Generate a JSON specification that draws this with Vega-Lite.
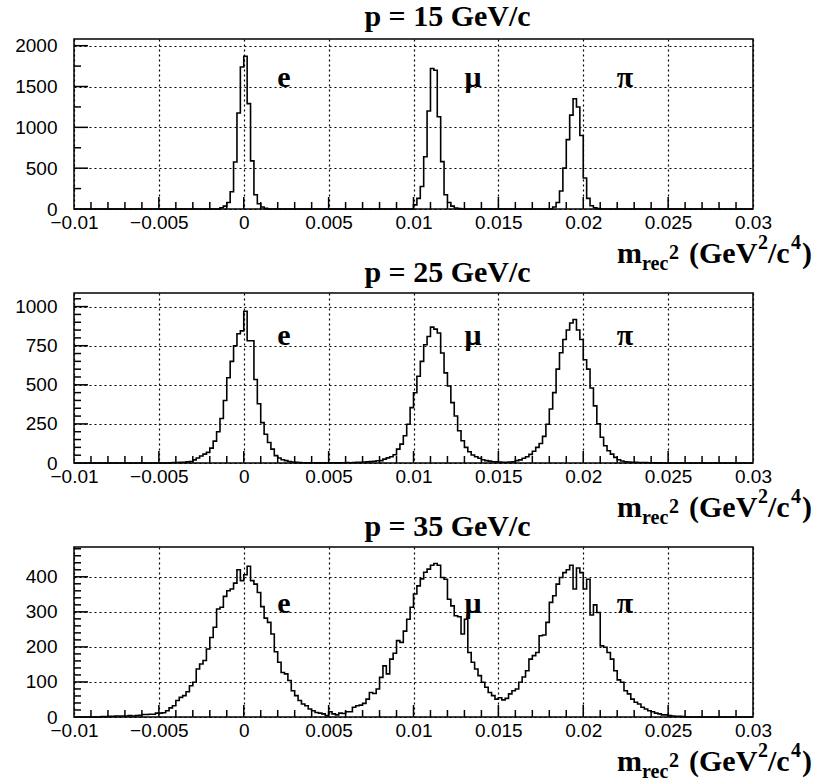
{
  "$schema": "https://vega.github.io/schema/vega-lite/v6.json",
  "background": "white",
  "padding": {"left": 13, "top": 0, "right": 0, "bottom": 0},
  "bounds": "flush",
  "spacing": 84,
  "config": {
    "view": {"stroke": "black", "strokeWidth": 1.5},
    "axis": {
      "domain": false,
      "grid": true,
      "ticks": false,
      "gridColor": "black",
      "gridDash": [2, 3],
      "gridWidth": 1.2,
      "labelFont": "Liberation Sans",
      "labelFontSize": 19,
      "labelColor": "black",
      "labelFlush": false,
      "labelOverlap": false,
      "labelBound": false
    },
    "tick": {"filled": true, "color": "black", "opacity": 1, "thickness": 1.5},
    "title": {"font": "Liberation Serif", "fontWeight": "bold", "fontSize": 30, "color": "black", "anchor": "middle", "dx": 34, "offset": 5}
  },
  "datasets": {
    "h15": [
      {"m2": -0.01, "n": 0}, {"m2": -0.0016, "n": 0}, {"m2": -0.0014, "n": 15}, {"m2": -0.0012, "n": 35},
      {"m2": -0.001, "n": 80}, {"m2": -0.0008, "n": 212}, {"m2": -0.0006, "n": 575}, {"m2": -0.0004, "n": 1175},
      {"m2": -0.0002, "n": 1740}, {"m2": 0, "n": 1870}, {"m2": 0.0002, "n": 1290}, {"m2": 0.0004, "n": 590},
      {"m2": 0.0006, "n": 175}, {"m2": 0.0008, "n": 65}, {"m2": 0.001, "n": 25}, {"m2": 0.0012, "n": 8},
      {"m2": 0.0014, "n": 0},
      {"m2": 0.01, "n": 50}, {"m2": 0.0102, "n": 130}, {"m2": 0.0104, "n": 275}, {"m2": 0.0106, "n": 640},
      {"m2": 0.0108, "n": 1200}, {"m2": 0.011, "n": 1720}, {"m2": 0.0112, "n": 1700}, {"m2": 0.0114, "n": 1130},
      {"m2": 0.0116, "n": 580}, {"m2": 0.0118, "n": 175}, {"m2": 0.012, "n": 80}, {"m2": 0.0122, "n": 35},
      {"m2": 0.0124, "n": 12}, {"m2": 0.0126, "n": 5}, {"m2": 0.0128, "n": 0},
      {"m2": 0.0182, "n": 25}, {"m2": 0.0184, "n": 80}, {"m2": 0.0186, "n": 220}, {"m2": 0.0188, "n": 500},
      {"m2": 0.019, "n": 850}, {"m2": 0.0192, "n": 1150}, {"m2": 0.0194, "n": 1350}, {"m2": 0.0196, "n": 1250},
      {"m2": 0.0198, "n": 900}, {"m2": 0.02, "n": 380}, {"m2": 0.0202, "n": 130}, {"m2": 0.0204, "n": 40},
      {"m2": 0.0206, "n": 15}, {"m2": 0.0208, "n": 5}, {"m2": 0.021, "n": 0}, {"m2": 0.03, "n": 0}
    ],
    "h25": [
      {"m2": -0.01, "n": 0}, {"m2": -0.0046, "n": 0}, {"m2": -0.0044, "n": 2}, {"m2": -0.0042, "n": 3},
      {"m2": -0.004, "n": 3}, {"m2": -0.0038, "n": 4}, {"m2": -0.0036, "n": 5}, {"m2": -0.0034, "n": 7},
      {"m2": -0.0032, "n": 10}, {"m2": -0.003, "n": 20}, {"m2": -0.0028, "n": 32}, {"m2": -0.0026, "n": 45},
      {"m2": -0.0024, "n": 57}, {"m2": -0.0022, "n": 68}, {"m2": -0.002, "n": 95}, {"m2": -0.0018, "n": 140},
      {"m2": -0.0016, "n": 200}, {"m2": -0.0014, "n": 285}, {"m2": -0.0012, "n": 400}, {"m2": -0.001, "n": 545},
      {"m2": -0.0008, "n": 650}, {"m2": -0.0006, "n": 750}, {"m2": -0.0004, "n": 826}, {"m2": -0.0002, "n": 845},
      {"m2": 0, "n": 970}, {"m2": 0.0002, "n": 782}, {"m2": 0.0004, "n": 782}, {"m2": 0.0006, "n": 534},
      {"m2": 0.0008, "n": 379}, {"m2": 0.001, "n": 258}, {"m2": 0.0012, "n": 184}, {"m2": 0.0014, "n": 131},
      {"m2": 0.0016, "n": 89}, {"m2": 0.0018, "n": 47}, {"m2": 0.002, "n": 32}, {"m2": 0.0022, "n": 21},
      {"m2": 0.0024, "n": 15}, {"m2": 0.0026, "n": 10}, {"m2": 0.0028, "n": 6}, {"m2": 0.003, "n": 4},
      {"m2": 0.0032, "n": 3}, {"m2": 0.0034, "n": 2}, {"m2": 0.0036, "n": 2}, {"m2": 0.0038, "n": 1},
      {"m2": 0.004, "n": 2}, {"m2": 0.0042, "n": 1}, {"m2": 0.0044, "n": 1}, {"m2": 0.0046, "n": 1},
      {"m2": 0.0048, "n": 0}, {"m2": 0.005, "n": 1}, {"m2": 0.0052, "n": 2}, {"m2": 0.0054, "n": 1},
      {"m2": 0.0056, "n": 2}, {"m2": 0.0058, "n": 2}, {"m2": 0.006, "n": 3}, {"m2": 0.0062, "n": 2},
      {"m2": 0.0064, "n": 3}, {"m2": 0.0066, "n": 4}, {"m2": 0.0068, "n": 5}, {"m2": 0.007, "n": 6},
      {"m2": 0.0072, "n": 7}, {"m2": 0.0074, "n": 9}, {"m2": 0.0076, "n": 11}, {"m2": 0.0078, "n": 14},
      {"m2": 0.008, "n": 15}, {"m2": 0.0082, "n": 25}, {"m2": 0.0084, "n": 33}, {"m2": 0.0086, "n": 40},
      {"m2": 0.0088, "n": 53}, {"m2": 0.009, "n": 89}, {"m2": 0.0092, "n": 121}, {"m2": 0.0094, "n": 174},
      {"m2": 0.0096, "n": 248}, {"m2": 0.0098, "n": 354}, {"m2": 0.01, "n": 449}, {"m2": 0.0102, "n": 555},
      {"m2": 0.0104, "n": 650}, {"m2": 0.0106, "n": 756}, {"m2": 0.0108, "n": 809}, {"m2": 0.011, "n": 869},
      {"m2": 0.0112, "n": 856}, {"m2": 0.0114, "n": 831}, {"m2": 0.0116, "n": 703}, {"m2": 0.0118, "n": 576},
      {"m2": 0.012, "n": 492}, {"m2": 0.0122, "n": 386}, {"m2": 0.0124, "n": 301}, {"m2": 0.0126, "n": 206},
      {"m2": 0.0128, "n": 142}, {"m2": 0.013, "n": 100}, {"m2": 0.0132, "n": 72}, {"m2": 0.0134, "n": 51},
      {"m2": 0.0136, "n": 40}, {"m2": 0.0138, "n": 30}, {"m2": 0.014, "n": 21}, {"m2": 0.0142, "n": 15},
      {"m2": 0.0144, "n": 12}, {"m2": 0.0146, "n": 8}, {"m2": 0.0148, "n": 7}, {"m2": 0.015, "n": 6},
      {"m2": 0.0152, "n": 5}, {"m2": 0.0154, "n": 5}, {"m2": 0.0156, "n": 6}, {"m2": 0.0158, "n": 8},
      {"m2": 0.016, "n": 15}, {"m2": 0.0162, "n": 20}, {"m2": 0.0164, "n": 30}, {"m2": 0.0166, "n": 40},
      {"m2": 0.0168, "n": 55}, {"m2": 0.017, "n": 75}, {"m2": 0.0172, "n": 100}, {"m2": 0.0174, "n": 125},
      {"m2": 0.0176, "n": 170}, {"m2": 0.0178, "n": 248}, {"m2": 0.018, "n": 345}, {"m2": 0.0182, "n": 450},
      {"m2": 0.0184, "n": 600}, {"m2": 0.0186, "n": 705}, {"m2": 0.0188, "n": 790}, {"m2": 0.019, "n": 850},
      {"m2": 0.0192, "n": 895}, {"m2": 0.0194, "n": 918}, {"m2": 0.0196, "n": 850}, {"m2": 0.0198, "n": 790},
      {"m2": 0.02, "n": 660}, {"m2": 0.0202, "n": 600}, {"m2": 0.0204, "n": 480}, {"m2": 0.0206, "n": 365},
      {"m2": 0.0208, "n": 250}, {"m2": 0.021, "n": 165}, {"m2": 0.0212, "n": 110}, {"m2": 0.0214, "n": 78},
      {"m2": 0.0216, "n": 57}, {"m2": 0.0218, "n": 36}, {"m2": 0.022, "n": 21}, {"m2": 0.0222, "n": 13},
      {"m2": 0.0224, "n": 8}, {"m2": 0.0226, "n": 6}, {"m2": 0.0228, "n": 5}, {"m2": 0.023, "n": 4},
      {"m2": 0.0232, "n": 3}, {"m2": 0.0234, "n": 3}, {"m2": 0.0236, "n": 3}, {"m2": 0.0238, "n": 2},
      {"m2": 0.024, "n": 2}, {"m2": 0.0242, "n": 1}, {"m2": 0.0244, "n": 1}, {"m2": 0.0246, "n": 0},
      {"m2": 0.03, "n": 0}
    ],
    "h35": [
      {"m2": -0.01, "n": 0}, {"m2": -0.0086, "n": 0}, {"m2": -0.0084, "n": 1}, {"m2": -0.0082, "n": 1},
      {"m2": -0.008, "n": 2}, {"m2": -0.0078, "n": 2}, {"m2": -0.0076, "n": 3}, {"m2": -0.0074, "n": 3},
      {"m2": -0.0072, "n": 3}, {"m2": -0.007, "n": 3}, {"m2": -0.0068, "n": 4}, {"m2": -0.0066, "n": 3},
      {"m2": -0.0064, "n": 4}, {"m2": -0.0062, "n": 5}, {"m2": -0.006, "n": 7}, {"m2": -0.0058, "n": 7},
      {"m2": -0.0056, "n": 8}, {"m2": -0.0054, "n": 8}, {"m2": -0.0052, "n": 11}, {"m2": -0.005, "n": 11},
      {"m2": -0.0048, "n": 12}, {"m2": -0.0046, "n": 18}, {"m2": -0.0044, "n": 26}, {"m2": -0.0042, "n": 32},
      {"m2": -0.004, "n": 47}, {"m2": -0.0038, "n": 56}, {"m2": -0.0036, "n": 61}, {"m2": -0.0034, "n": 72},
      {"m2": -0.0032, "n": 89}, {"m2": -0.003, "n": 99}, {"m2": -0.0028, "n": 137}, {"m2": -0.0026, "n": 151},
      {"m2": -0.0024, "n": 161}, {"m2": -0.0022, "n": 194}, {"m2": -0.002, "n": 227}, {"m2": -0.0018, "n": 256},
      {"m2": -0.0016, "n": 308}, {"m2": -0.0014, "n": 313}, {"m2": -0.0012, "n": 344}, {"m2": -0.001, "n": 360},
      {"m2": -0.0008, "n": 365}, {"m2": -0.0006, "n": 382}, {"m2": -0.0004, "n": 420}, {"m2": -0.0002, "n": 389},
      {"m2": 0, "n": 406}, {"m2": 0.0002, "n": 430}, {"m2": 0.0004, "n": 389}, {"m2": 0.0006, "n": 379},
      {"m2": 0.0008, "n": 355}, {"m2": 0.001, "n": 315}, {"m2": 0.0012, "n": 282}, {"m2": 0.0014, "n": 270},
      {"m2": 0.0016, "n": 237}, {"m2": 0.0018, "n": 186}, {"m2": 0.002, "n": 156}, {"m2": 0.0022, "n": 127},
      {"m2": 0.0024, "n": 123}, {"m2": 0.0026, "n": 104}, {"m2": 0.0028, "n": 75}, {"m2": 0.003, "n": 61},
      {"m2": 0.0032, "n": 47}, {"m2": 0.0034, "n": 37}, {"m2": 0.0036, "n": 32}, {"m2": 0.0038, "n": 23},
      {"m2": 0.004, "n": 18}, {"m2": 0.0042, "n": 13}, {"m2": 0.0044, "n": 11}, {"m2": 0.0046, "n": 9},
      {"m2": 0.0048, "n": 4}, {"m2": 0.005, "n": 15}, {"m2": 0.0052, "n": 9}, {"m2": 0.0054, "n": 6},
      {"m2": 0.0056, "n": 11}, {"m2": 0.0058, "n": 10}, {"m2": 0.006, "n": 15}, {"m2": 0.0062, "n": 15},
      {"m2": 0.0064, "n": 28}, {"m2": 0.0066, "n": 32}, {"m2": 0.0068, "n": 34}, {"m2": 0.007, "n": 39},
      {"m2": 0.0072, "n": 51}, {"m2": 0.0074, "n": 70}, {"m2": 0.0076, "n": 67}, {"m2": 0.0078, "n": 80},
      {"m2": 0.008, "n": 113}, {"m2": 0.0082, "n": 146}, {"m2": 0.0084, "n": 123}, {"m2": 0.0086, "n": 165},
      {"m2": 0.0088, "n": 182}, {"m2": 0.009, "n": 218}, {"m2": 0.0092, "n": 213}, {"m2": 0.0094, "n": 245},
      {"m2": 0.0096, "n": 279}, {"m2": 0.0098, "n": 313}, {"m2": 0.01, "n": 351}, {"m2": 0.0102, "n": 374},
      {"m2": 0.0104, "n": 394}, {"m2": 0.0106, "n": 413}, {"m2": 0.0108, "n": 422}, {"m2": 0.011, "n": 433},
      {"m2": 0.0112, "n": 438}, {"m2": 0.0114, "n": 433}, {"m2": 0.0116, "n": 398}, {"m2": 0.0118, "n": 393},
      {"m2": 0.012, "n": 336}, {"m2": 0.0122, "n": 317}, {"m2": 0.0124, "n": 289}, {"m2": 0.0126, "n": 286},
      {"m2": 0.0128, "n": 237}, {"m2": 0.013, "n": 279}, {"m2": 0.0132, "n": 184}, {"m2": 0.0134, "n": 156},
      {"m2": 0.0136, "n": 137}, {"m2": 0.0138, "n": 118}, {"m2": 0.014, "n": 99}, {"m2": 0.0142, "n": 85},
      {"m2": 0.0144, "n": 70}, {"m2": 0.0146, "n": 61}, {"m2": 0.0148, "n": 51}, {"m2": 0.015, "n": 55},
      {"m2": 0.0152, "n": 49}, {"m2": 0.0154, "n": 53}, {"m2": 0.0156, "n": 66}, {"m2": 0.0158, "n": 75},
      {"m2": 0.016, "n": 80}, {"m2": 0.0162, "n": 99}, {"m2": 0.0164, "n": 114}, {"m2": 0.0166, "n": 132},
      {"m2": 0.0168, "n": 165}, {"m2": 0.017, "n": 175}, {"m2": 0.0172, "n": 184}, {"m2": 0.0174, "n": 232},
      {"m2": 0.0176, "n": 234}, {"m2": 0.0178, "n": 270}, {"m2": 0.018, "n": 327}, {"m2": 0.0182, "n": 346},
      {"m2": 0.0184, "n": 379}, {"m2": 0.0186, "n": 398}, {"m2": 0.0188, "n": 412}, {"m2": 0.019, "n": 420},
      {"m2": 0.0192, "n": 433}, {"m2": 0.0194, "n": 365}, {"m2": 0.0196, "n": 425}, {"m2": 0.0198, "n": 412},
      {"m2": 0.02, "n": 365}, {"m2": 0.0202, "n": 393}, {"m2": 0.0204, "n": 291}, {"m2": 0.0206, "n": 320},
      {"m2": 0.0208, "n": 298}, {"m2": 0.021, "n": 203}, {"m2": 0.0212, "n": 199}, {"m2": 0.0214, "n": 184},
      {"m2": 0.0216, "n": 165}, {"m2": 0.0218, "n": 132}, {"m2": 0.022, "n": 106}, {"m2": 0.0222, "n": 99},
      {"m2": 0.0224, "n": 75}, {"m2": 0.0226, "n": 66}, {"m2": 0.0228, "n": 51}, {"m2": 0.023, "n": 42},
      {"m2": 0.0232, "n": 37}, {"m2": 0.0234, "n": 28}, {"m2": 0.0236, "n": 23}, {"m2": 0.0238, "n": 18},
      {"m2": 0.024, "n": 15}, {"m2": 0.0242, "n": 11}, {"m2": 0.0244, "n": 9}, {"m2": 0.0246, "n": 6},
      {"m2": 0.0248, "n": 6}, {"m2": 0.025, "n": 4}, {"m2": 0.0252, "n": 3}, {"m2": 0.0254, "n": 2},
      {"m2": 0.0256, "n": 2}, {"m2": 0.0258, "n": 1}, {"m2": 0.026, "n": 0}, {"m2": 0.03, "n": 0}
    ],
    "lab15": [
      {"m2": 0.00237, "n": 1494, "t": "e"}, {"m2": 0.0135, "n": 1494, "t": "μ"}, {"m2": 0.02246, "n": 1494, "t": "π"}
    ],
    "lab25": [
      {"m2": 0.00237, "n": 752, "t": "e"}, {"m2": 0.0135, "n": 752, "t": "μ"}, {"m2": 0.02246, "n": 752, "t": "π"}
    ],
    "lab35": [
      {"m2": 0.00237, "n": 296, "t": "e"}, {"m2": 0.0135, "n": 296, "t": "μ"}, {"m2": 0.02246, "n": 296, "t": "π"}
    ],
    "axisEnd": [
      {"m2": 0.03, "n": 0}
    ],
    "xticks": [
      {"m2": -0.009, "n": 0}, {"m2": -0.008, "n": 0}, {"m2": -0.007, "n": 0}, {"m2": -0.006, "n": 0}, {"m2": -0.005, "n": 0},
      {"m2": -0.004, "n": 0}, {"m2": -0.003, "n": 0}, {"m2": -0.002, "n": 0}, {"m2": -0.001, "n": 0}, {"m2": 0, "n": 0},
      {"m2": 0.001, "n": 0}, {"m2": 0.002, "n": 0}, {"m2": 0.003, "n": 0}, {"m2": 0.004, "n": 0}, {"m2": 0.005, "n": 0},
      {"m2": 0.006, "n": 0}, {"m2": 0.007, "n": 0}, {"m2": 0.008, "n": 0}, {"m2": 0.009, "n": 0}, {"m2": 0.01, "n": 0},
      {"m2": 0.011, "n": 0}, {"m2": 0.012, "n": 0}, {"m2": 0.013, "n": 0}, {"m2": 0.014, "n": 0}, {"m2": 0.015, "n": 0},
      {"m2": 0.016, "n": 0}, {"m2": 0.017, "n": 0}, {"m2": 0.018, "n": 0}, {"m2": 0.019, "n": 0}, {"m2": 0.02, "n": 0},
      {"m2": 0.021, "n": 0}, {"m2": 0.022, "n": 0}, {"m2": 0.023, "n": 0}, {"m2": 0.024, "n": 0}, {"m2": 0.025, "n": 0},
      {"m2": 0.026, "n": 0}, {"m2": 0.027, "n": 0}, {"m2": 0.028, "n": 0}, {"m2": 0.029, "n": 0}
    ],
    "yticks15": [
      {"m2": -0.01, "n": 250}, {"m2": -0.01, "n": 500}, {"m2": -0.01, "n": 750}, {"m2": -0.01, "n": 1000},
      {"m2": -0.01, "n": 1250}, {"m2": -0.01, "n": 1500}, {"m2": -0.01, "n": 1750}, {"m2": -0.01, "n": 2000}
    ],
    "yticks25": [
      {"m2": -0.01, "n": 50}, {"m2": -0.01, "n": 100}, {"m2": -0.01, "n": 150}, {"m2": -0.01, "n": 200},
      {"m2": -0.01, "n": 250}, {"m2": -0.01, "n": 300}, {"m2": -0.01, "n": 350}, {"m2": -0.01, "n": 400},
      {"m2": -0.01, "n": 450}, {"m2": -0.01, "n": 500}, {"m2": -0.01, "n": 550}, {"m2": -0.01, "n": 600},
      {"m2": -0.01, "n": 650}, {"m2": -0.01, "n": 700}, {"m2": -0.01, "n": 750}, {"m2": -0.01, "n": 800},
      {"m2": -0.01, "n": 850}, {"m2": -0.01, "n": 900}, {"m2": -0.01, "n": 950}, {"m2": -0.01, "n": 1000},
      {"m2": -0.01, "n": 1050}
    ],
    "yticks35": [
      {"m2": -0.01, "n": 20}, {"m2": -0.01, "n": 40}, {"m2": -0.01, "n": 60}, {"m2": -0.01, "n": 80},
      {"m2": -0.01, "n": 100}, {"m2": -0.01, "n": 120}, {"m2": -0.01, "n": 140}, {"m2": -0.01, "n": 160},
      {"m2": -0.01, "n": 180}, {"m2": -0.01, "n": 200}, {"m2": -0.01, "n": 220}, {"m2": -0.01, "n": 240},
      {"m2": -0.01, "n": 260}, {"m2": -0.01, "n": 280}, {"m2": -0.01, "n": 300}, {"m2": -0.01, "n": 320},
      {"m2": -0.01, "n": 340}, {"m2": -0.01, "n": 360}, {"m2": -0.01, "n": 380}, {"m2": -0.01, "n": 400},
      {"m2": -0.01, "n": 420}, {"m2": -0.01, "n": 440}, {"m2": -0.01, "n": 460}, {"m2": -0.01, "n": 480}
    ]
  },
  "vconcat": [
    {
      "width": 679, "height": 170,
      "title": {"text": "p = 15 GeV/c"},
      "encoding": {
        "x": {"field": "m2", "type": "quantitative", "scale": {"domain": [-0.01, 0.03], "nice": false, "zero": false},
          "axis": {"title": null, "format": "~g",
            "values": [-0.01, -0.005, 0, 0.005, 0.01, 0.015, 0.02, 0.025, 0.03],
            "labelPadding": 4}},
        "y": {"field": "n", "type": "quantitative", "scale": {"domain": [0, 2082], "nice": false},
          "axis": {"title": null, "format": "d",
            "values": [0, 500, 1000, 1500, 2000],
            "labelPadding": 17}}
      },
      "layer": [
        {"data": {"name": "xticks"}, "transform": [{"filter": "round(datum.m2*1000) % 5 == 0"}],
         "mark": {"type": "tick", "orient": "vertical", "yOffset": -6},
         "encoding": {"size": {"value": 12}}},
        {"data": {"name": "xticks"}, "transform": [{"filter": "round(datum.m2*1000) % 5 != 0"}],
         "mark": {"type": "tick", "orient": "vertical", "yOffset": -3.5},
         "encoding": {"size": {"value": 7}}},
        {"data": {"name": "yticks15"}, "transform": [{"filter": "datum.n % 500 == 0"}],
         "mark": {"type": "tick", "orient": "horizontal", "xOffset": 7},
         "encoding": {"size": {"value": 14}}},
        {"data": {"name": "yticks15"}, "transform": [{"filter": "datum.n % 500 != 0"}],
         "mark": {"type": "tick", "orient": "horizontal", "xOffset": 3.5},
         "encoding": {"size": {"value": 7}}},
        {"data": {"name": "h15"}, "mark": {"type": "line", "interpolate": "step-after", "color": "black", "strokeWidth": 1.6}},
        {"data": {"name": "lab15"},
         "mark": {"type": "text", "font": "Liberation Serif", "fontWeight": "bold", "fontSize": 30, "align": "center", "baseline": "alphabetic", "color": "black"},
         "encoding": {"text": {"field": "t"}}},
        {"data": {"name": "axisEnd"},
         "layer": [
          {"mark": {"type": "text", "text": "m", "font": "Liberation Serif", "fontWeight": "bold", "fontSize": 30, "align": "left", "baseline": "alphabetic", "dx": -136, "dy": 54}},
          {"mark": {"type": "text", "text": "rec", "font": "Liberation Serif", "fontWeight": "bold", "fontSize": 20, "align": "left", "baseline": "alphabetic", "dx": -111, "dy": 61}},
          {"mark": {"type": "text", "text": "2", "font": "Liberation Serif", "fontWeight": "bold", "fontSize": 20, "align": "left", "baseline": "alphabetic", "dx": -84, "dy": 50}},
          {"mark": {"type": "text", "text": "(GeV", "font": "Liberation Serif", "fontWeight": "bold", "fontSize": 30, "align": "left", "baseline": "alphabetic", "dx": -64, "dy": 54}},
          {"mark": {"type": "text", "text": "2", "font": "Liberation Serif", "fontWeight": "bold", "fontSize": 20, "align": "left", "baseline": "alphabetic", "dx": 5, "dy": 40}},
          {"mark": {"type": "text", "text": "/c", "font": "Liberation Serif", "fontWeight": "bold", "fontSize": 30, "align": "left", "baseline": "alphabetic", "dx": 15, "dy": 54}},
          {"mark": {"type": "text", "text": "4", "font": "Liberation Serif", "fontWeight": "bold", "fontSize": 20, "align": "left", "baseline": "alphabetic", "dx": 38, "dy": 40}},
          {"mark": {"type": "text", "text": ")", "font": "Liberation Serif", "fontWeight": "bold", "fontSize": 30, "align": "left", "baseline": "alphabetic", "dx": 49, "dy": 54}}
         ]}
      ]
    },
    {
      "width": 679, "height": 170,
      "title": {"text": "p = 25 GeV/c"},
      "encoding": {
        "x": {"field": "m2", "type": "quantitative", "scale": {"domain": [-0.01, 0.03], "nice": false, "zero": false},
          "axis": {"title": null, "format": "~g",
            "values": [-0.01, -0.005, 0, 0.005, 0.01, 0.015, 0.02, 0.025, 0.03],
            "labelPadding": 4}},
        "y": {"field": "n", "type": "quantitative", "scale": {"domain": [0, 1087], "nice": false},
          "axis": {"title": null, "format": "d",
            "values": [0, 250, 500, 750, 1000],
            "labelPadding": 17}}
      },
      "layer": [
        {"data": {"name": "xticks"}, "transform": [{"filter": "round(datum.m2*1000) % 5 == 0"}],
         "mark": {"type": "tick", "orient": "vertical", "yOffset": -6},
         "encoding": {"size": {"value": 12}}},
        {"data": {"name": "xticks"}, "transform": [{"filter": "round(datum.m2*1000) % 5 != 0"}],
         "mark": {"type": "tick", "orient": "vertical", "yOffset": -3.5},
         "encoding": {"size": {"value": 7}}},
        {"data": {"name": "yticks25"}, "transform": [{"filter": "datum.n % 250 == 0"}],
         "mark": {"type": "tick", "orient": "horizontal", "xOffset": 7},
         "encoding": {"size": {"value": 14}}},
        {"data": {"name": "yticks25"}, "transform": [{"filter": "datum.n % 250 != 0"}],
         "mark": {"type": "tick", "orient": "horizontal", "xOffset": 3.5},
         "encoding": {"size": {"value": 7}}},
        {"data": {"name": "h25"}, "mark": {"type": "line", "interpolate": "step-after", "color": "black", "strokeWidth": 1.6}},
        {"data": {"name": "lab25"},
         "mark": {"type": "text", "font": "Liberation Serif", "fontWeight": "bold", "fontSize": 30, "align": "center", "baseline": "alphabetic", "color": "black"},
         "encoding": {"text": {"field": "t"}}},
        {"data": {"name": "axisEnd"},
         "layer": [
          {"mark": {"type": "text", "text": "m", "font": "Liberation Serif", "fontWeight": "bold", "fontSize": 30, "align": "left", "baseline": "alphabetic", "dx": -136, "dy": 54}},
          {"mark": {"type": "text", "text": "rec", "font": "Liberation Serif", "fontWeight": "bold", "fontSize": 20, "align": "left", "baseline": "alphabetic", "dx": -111, "dy": 61}},
          {"mark": {"type": "text", "text": "2", "font": "Liberation Serif", "fontWeight": "bold", "fontSize": 20, "align": "left", "baseline": "alphabetic", "dx": -84, "dy": 50}},
          {"mark": {"type": "text", "text": "(GeV", "font": "Liberation Serif", "fontWeight": "bold", "fontSize": 30, "align": "left", "baseline": "alphabetic", "dx": -64, "dy": 54}},
          {"mark": {"type": "text", "text": "2", "font": "Liberation Serif", "fontWeight": "bold", "fontSize": 20, "align": "left", "baseline": "alphabetic", "dx": 5, "dy": 40}},
          {"mark": {"type": "text", "text": "/c", "font": "Liberation Serif", "fontWeight": "bold", "fontSize": 30, "align": "left", "baseline": "alphabetic", "dx": 15, "dy": 54}},
          {"mark": {"type": "text", "text": "4", "font": "Liberation Serif", "fontWeight": "bold", "fontSize": 20, "align": "left", "baseline": "alphabetic", "dx": 38, "dy": 40}},
          {"mark": {"type": "text", "text": ")", "font": "Liberation Serif", "fontWeight": "bold", "fontSize": 30, "align": "left", "baseline": "alphabetic", "dx": 49, "dy": 54}}
         ]}
      ]
    },
    {
      "width": 679, "height": 170,
      "title": {"text": "p = 35 GeV/c"},
      "encoding": {
        "x": {"field": "m2", "type": "quantitative", "scale": {"domain": [-0.01, 0.03], "nice": false, "zero": false},
          "axis": {"title": null, "format": "~g",
            "values": [-0.01, -0.005, 0, 0.005, 0.01, 0.015, 0.02, 0.025, 0.03],
            "labelPadding": 4}},
        "y": {"field": "n", "type": "quantitative", "scale": {"domain": [0, 485], "nice": false},
          "axis": {"title": null, "format": "d",
            "values": [0, 100, 200, 300, 400],
            "labelPadding": 17}}
      },
      "layer": [
        {"data": {"name": "xticks"}, "transform": [{"filter": "round(datum.m2*1000) % 5 == 0"}],
         "mark": {"type": "tick", "orient": "vertical", "yOffset": -6},
         "encoding": {"size": {"value": 12}}},
        {"data": {"name": "xticks"}, "transform": [{"filter": "round(datum.m2*1000) % 5 != 0"}],
         "mark": {"type": "tick", "orient": "vertical", "yOffset": -3.5},
         "encoding": {"size": {"value": 7}}},
        {"data": {"name": "yticks35"}, "transform": [{"filter": "datum.n % 100 == 0"}],
         "mark": {"type": "tick", "orient": "horizontal", "xOffset": 7},
         "encoding": {"size": {"value": 14}}},
        {"data": {"name": "yticks35"}, "transform": [{"filter": "datum.n % 100 != 0"}],
         "mark": {"type": "tick", "orient": "horizontal", "xOffset": 3.5},
         "encoding": {"size": {"value": 7}}},
        {"data": {"name": "h35"}, "mark": {"type": "line", "interpolate": "step-after", "color": "black", "strokeWidth": 1.6}},
        {"data": {"name": "lab35"},
         "mark": {"type": "text", "font": "Liberation Serif", "fontWeight": "bold", "fontSize": 30, "align": "center", "baseline": "alphabetic", "color": "black"},
         "encoding": {"text": {"field": "t"}}},
        {"data": {"name": "axisEnd"},
         "layer": [
          {"mark": {"type": "text", "text": "m", "font": "Liberation Serif", "fontWeight": "bold", "fontSize": 30, "align": "left", "baseline": "alphabetic", "dx": -136, "dy": 54}},
          {"mark": {"type": "text", "text": "rec", "font": "Liberation Serif", "fontWeight": "bold", "fontSize": 20, "align": "left", "baseline": "alphabetic", "dx": -111, "dy": 61}},
          {"mark": {"type": "text", "text": "2", "font": "Liberation Serif", "fontWeight": "bold", "fontSize": 20, "align": "left", "baseline": "alphabetic", "dx": -84, "dy": 50}},
          {"mark": {"type": "text", "text": "(GeV", "font": "Liberation Serif", "fontWeight": "bold", "fontSize": 30, "align": "left", "baseline": "alphabetic", "dx": -64, "dy": 54}},
          {"mark": {"type": "text", "text": "2", "font": "Liberation Serif", "fontWeight": "bold", "fontSize": 20, "align": "left", "baseline": "alphabetic", "dx": 5, "dy": 40}},
          {"mark": {"type": "text", "text": "/c", "font": "Liberation Serif", "fontWeight": "bold", "fontSize": 30, "align": "left", "baseline": "alphabetic", "dx": 15, "dy": 54}},
          {"mark": {"type": "text", "text": "4", "font": "Liberation Serif", "fontWeight": "bold", "fontSize": 20, "align": "left", "baseline": "alphabetic", "dx": 38, "dy": 40}},
          {"mark": {"type": "text", "text": ")", "font": "Liberation Serif", "fontWeight": "bold", "fontSize": 30, "align": "left", "baseline": "alphabetic", "dx": 49, "dy": 54}}
         ]}
      ]
    }
  ]
}
